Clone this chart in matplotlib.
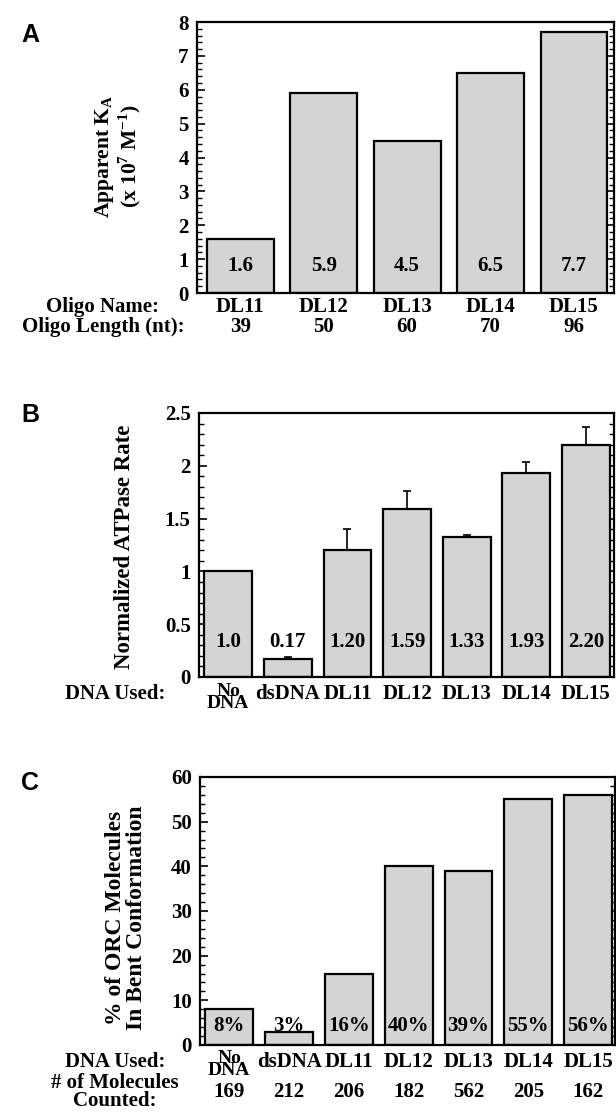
import matplotlib
matplotlib.use('Agg')
import matplotlib.pyplot as plt
from matplotlib.ticker import MultipleLocator
import matplotlib.transforms as mtransforms

# panel A
oligo_names = ['DL11', 'DL12', 'DL13', 'DL14', 'DL15']
oligo_lengths = [39, 50, 60, 70, 96]
apparent_ka = [1.6, 5.9, 4.5, 6.5, 7.7]
ka_labels = ['1.6', '5.9', '4.5', '6.5', '7.7']

# panel B
dna_used = ['No\nDNA', 'dsDNA', 'DL11', 'DL12', 'DL13', 'DL14', 'DL15']
atpase_rate = [1.0, 0.17, 1.20, 1.59, 1.33, 1.93, 2.20]
atpase_err = [0.0, 0.02, 0.20, 0.17, 0.01, 0.11, 0.17]
atpase_labels = ['1.0', '0.17', '1.20', '1.59', '1.33', '1.93', '2.20']

# panel C
bent_pct = [8, 3, 16, 40, 39, 55, 56]
bent_labels = ['8%', '3%', '16%', '40%', '39%', '55%', '56%']
molecules_counted = [169, 212, 206, 182, 562, 205, 162]

plt.rcParams['font.family'] = ['Liberation Serif', 'DejaVu Serif']
plt.rcParams['font.weight'] = 'bold'
plt.rcParams['mathtext.fontset'] = 'custom'
plt.rcParams['mathtext.rm'] = 'Liberation Serif:bold'

W, H = 616, 1116
fig = plt.figure(figsize=(W / 100, H / 100), dpi=100)


def px_axes(l, t, r, b):
    return fig.add_axes([l / W, 1 - b / H, (r - l) / W, (b - t) / H])


BAR = dict(color='#d4d4d4', edgecolor='black', linewidth=1.6, width=0.8, zorder=2)
FS = 15


def style(ax, major, minor):
    ax.yaxis.set_major_locator(MultipleLocator(major))
    ax.yaxis.set_minor_locator(MultipleLocator(minor))
    ax.tick_params(axis='y', which='both', direction='in', left=True, right=True,
                   labelsize=FS, pad=6)
    ax.tick_params(axis='y', which='major', length=6, width=1.2)
    ax.tick_params(axis='y', which='minor', length=3.5, width=1)
    ax.tick_params(axis='x', length=0, labelbottom=False)
    for s in ax.spines.values():
        s.set_linewidth(1.6)


def cat_labels(ax, labels, y, two_shift=0.012):
    tr = mtransforms.blended_transform_factory(ax.transData, ax.transAxes)
    for i, lab in enumerate(labels):
        lab = str(lab)
        two = '\n' in lab
        ax.text(i, y - (two_shift if two else 0), lab, transform=tr, ha='center',
                va='center', fontsize=14 if two else FS, linespacing=0.66,
                clip_on=False)


# ---- A ----
axA = px_axes(197, 22, 614, 293)
xa = range(len(apparent_ka))
axA.bar(xa, apparent_ka, **BAR)
for i, lab in enumerate(ka_labels):
    axA.text(i, 0.8, lab, ha='center', va='center', fontsize=FS, zorder=3)
axA.set_ylim(0, 8)
axA.set_xlim(-0.52, 4.48)
style(axA, 1, 0.2)
cat_labels(axA, oligo_names, -0.052)
cat_labels(axA, oligo_lengths, -0.125)
fig.text(103 / W, 1 - 307 / H, 'Oligo Name:', ha='center', va='center', fontsize=FS)
fig.text(103 / W, 1 - 327 / H, 'Oligo Length (nt):', ha='center', va='center', fontsize=FS)
fig.text(118 / W, 1 - 156 / H,
         'Apparent K$_\\mathregular{A}$\n(x 10$^\\mathregular{7}$ M$^\\mathregular{-1}$)',
         rotation=90, ha='center', va='center', fontsize=15.5, linespacing=1.0)
fig.text(30 / W, 1 - 35 / H, 'A', family='Liberation Sans', fontsize=18,
         ha='center', va='center')

# ---- B ----
axB = px_axes(199, 413, 614, 677)
xb = range(len(atpase_rate))
axB.bar(xb, atpase_rate, **BAR)
axB.errorbar(xb, atpase_rate, yerr=[[0] * len(atpase_err), atpase_err], fmt='none',
             ecolor='black', elinewidth=1.2, capsize=3, capthick=1.2, zorder=1)
for i, lab in enumerate(atpase_labels):
    axB.text(i, 0.33, lab, ha='center', va='center', fontsize=FS, zorder=3)
axB.set_ylim(0, 2.5)
axB.set_xlim(-0.49, 6.47)
style(axB, 0.5, 0.1)
axB.set_yticks([0, 0.5, 1, 1.5, 2, 2.5], ['0', '0.5', '1', '1.5', '2', '2.5'])
cat_labels(axB, dna_used, -0.066)
fig.text(115 / W, 1 - 694 / H, 'DNA Used:', ha='center', va='center', fontsize=FS)
fig.text(125 / W, 1 - 547 / H, 'Normalized ATPase Rate', rotation=90,
         ha='center', va='center', fontsize=16.5)
fig.text(30 / W, 1 - 415 / H, 'B', family='Liberation Sans', fontsize=18,
         ha='center', va='center')

# ---- C ----
axC = px_axes(200, 777, 615, 1045)
xc = range(len(bent_pct))
axC.bar(xc, bent_pct, **BAR)
for i, lab in enumerate(bent_labels):
    axC.text(i, 4.2, lab, ha='center', va='center', fontsize=FS, zorder=3)
axC.set_ylim(0, 60)
axC.set_xlim(-0.49, 6.45)
style(axC, 10, 2)
cat_labels(axC, dna_used, -0.064, two_shift=0.008)
cat_labels(axC, molecules_counted, -0.176)
fig.text(115 / W, 1 - 1062 / H, 'DNA Used:', ha='center', va='center', fontsize=FS)
fig.text(115 / W, 1 - 1092 / H, '# of Molecules\nCounted:', ha='center', va='center',
         fontsize=FS, linespacing=0.8)
fig.text(126 / W, 1 - 918 / H, '% of ORC Molecules\nIn Bent Conformation', rotation=90,
         ha='center', va='center', fontsize=17, linespacing=0.95)
fig.text(30 / W, 1 - 783 / H, 'C', family='Liberation Sans', fontsize=18,
         ha='center', va='center')

fig.savefig('out.png', dpi=100)
